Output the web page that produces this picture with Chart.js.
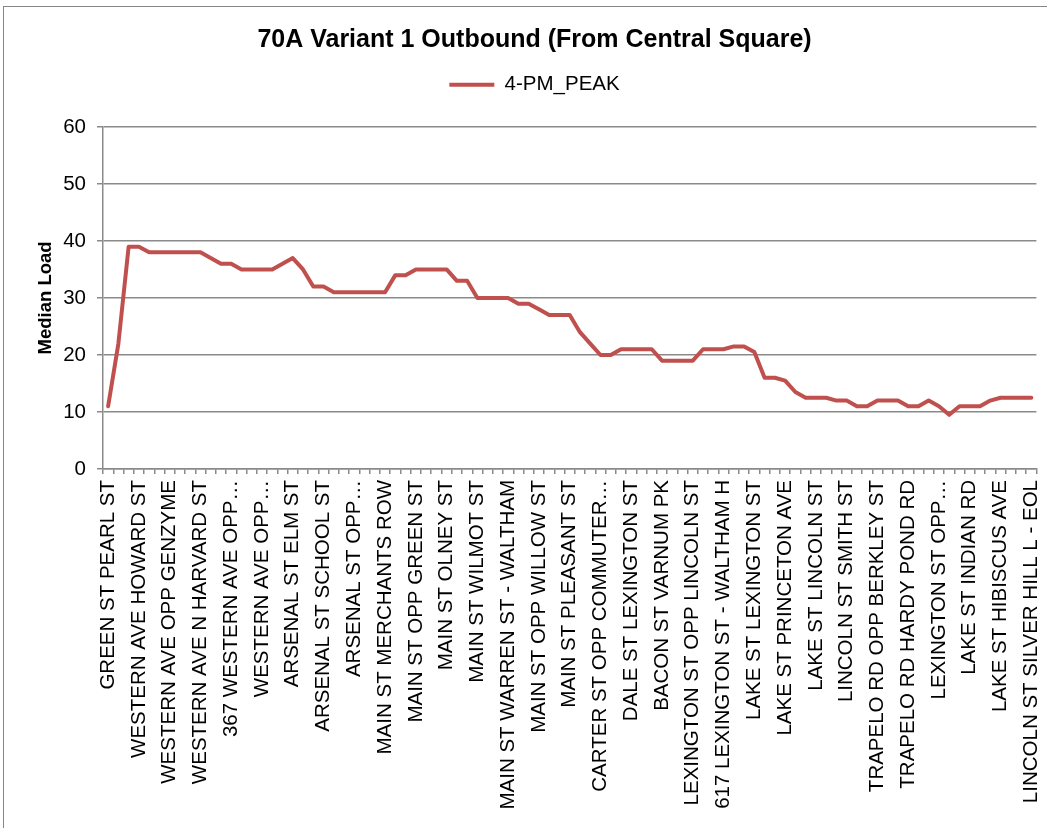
<!DOCTYPE html>
<html>
<head>
<meta charset="utf-8">
<title>70A Variant 1 Outbound</title>
<script src="https://cdn.jsdelivr.net/npm/chart.js@4.4.1/dist/chart.umd.min.js"></script>
<style>
  html, body { margin: 0; padding: 0; background: #fff; overflow: hidden; }
  #frame { position: absolute; left: 3px; top: 6px; width: 1100px; height: 900px; border: 1px solid #868686; }
  #chart { position: absolute; left: 0; top: 0; }
</style>
</head>
<body>
<div id="frame"><canvas id="chart" width="1058" height="822"></canvas></div>
<script>
// every third stop along the route gets a label on the axis
const labeledStops = [
    'GREEN ST PEARL ST',
    'WESTERN AVE HOWARD ST',
    'WESTERN AVE OPP GENZYME',
    'WESTERN AVE N HARVARD ST',
    '367 WESTERN AVE OPP\u2026',
    'WESTERN AVE OPP\u2026',
    'ARSENAL ST ELM ST',
    'ARSENAL ST SCHOOL ST',
    'ARSENAL ST OPP\u2026',
    'MAIN ST MERCHANTS ROW',
    'MAIN ST OPP GREEN ST',
    'MAIN ST OLNEY ST',
    'MAIN ST WILMOT ST',
    'MAIN ST WARREN ST - WALTHAM',
    'MAIN ST OPP WILLOW ST',
    'MAIN ST PLEASANT ST',
    'CARTER ST OPP COMMUTER\u2026',
    'DALE ST LEXINGTON ST',
    'BACON ST VARNUM PK',
    'LEXINGTON ST OPP LINCOLN ST',
    '617 LEXINGTON ST - WALTHAM H',
    'LAKE ST LEXINGTON ST',
    'LAKE ST PRINCETON AVE',
    'LAKE ST LINCOLN ST',
    'LINCOLN ST SMITH ST',
    'TRAPELO RD OPP BERKLEY ST',
    'TRAPELO RD HARDY POND RD',
    'LEXINGTON ST OPP\u2026',
    'LAKE ST INDIAN RD',
    'LAKE ST HIBISCUS AVE',
    'LINCOLN ST SILVER HILL L - EOL'
];

// median load at each stop, 4 PM peak
const pmPeak = [
    11, 22, 39, 39, 38, 38, 38, 38, 38, 38,
    37, 36, 36, 35, 35, 35, 35, 36, 37, 35,
    32, 32, 31, 31, 31, 31, 31, 31, 34, 34,
    35, 35, 35, 35, 33, 33, 30, 30, 30, 30,
    29, 29, 28, 27, 27, 27, 24, 22, 20, 20,
    21, 21, 21, 21, 19, 19, 19, 19, 21, 21,
    21, 21.5, 21.5, 20.5, 16, 16, 15.5, 13.5, 12.5, 12.5,
    12.5, 12, 12, 11, 11, 12, 12, 12, 11, 11,
    12, 11, 9.5, 11, 11, 11, 12, 12.5, 12.5, 12.5,
    12.5
];

const yTicks = [0, 10, 20, 30, 40, 50, 60];

const stopLabels = pmPeak.map((v, i) => (i % 3 === 0 ? labeledStops[i / 3] : ''));

const gridGray = '#8a8a8a';
const fontFamily = '"Liberation Sans", Arial, sans-serif';

// push the plot down a little below the legend
const legendGap = {
    id: 'legendGap',
    beforeInit(chart) {
        const fit = chart.legend.fit;
        chart.legend.fit = function () {
            fit.bind(chart.legend)();
            this.height += 22;
        };
    }
};

new Chart(document.getElementById('chart'), {
    type: 'line',
    data: {
        labels: stopLabels,
        datasets: [{
            label: '4-PM_PEAK',
            data: pmPeak,
            borderColor: '#C0504D',
            backgroundColor: '#C0504D',
            borderWidth: 4,
            borderJoinStyle: 'round',
            borderCapStyle: 'round',
            pointRadius: 0,
            tension: 0,
            fill: false
        }]
    },
    options: {
        responsive: false,
        animation: false,
        layout: { padding: { left: 24, right: 21, top: 0, bottom: 0 } },
        plugins: {
            title: {
                display: true,
                text: '70A Variant 1 Outbound (From Central Square)',
                color: '#000',
                font: { family: fontFamily, size: 25, weight: 'bold' },
                padding: { top: 18, bottom: 11.4 }
            },
            legend: {
                position: 'top',
                labels: {
                    color: '#000',
                    font: { family: fontFamily, size: 20.5 },
                    boxWidth: 45,
                    boxHeight: 4,
                    padding: 8,
                    generateLabels: chart =>
                        Chart.defaults.plugins.legend.labels.generateLabels(chart)
                            .map(item => ({ ...item, lineWidth: 0 }))
                }
            },
            tooltip: { enabled: false }
        },
        scales: {
            x: {
                offset: true,
                afterFit(scale) { scale.height = 360; },
                grid: {
                    offset: true,
                    drawOnChartArea: false,
                    drawTicks: true,
                    tickLength: 5,
                    color: gridGray,
                    lineWidth: 1.5
                },
                border: { display: true, color: gridGray, width: 1.5 },
                ticks: {
                    autoSkip: false,
                    maxRotation: 90,
                    minRotation: 90,
                    padding: 6,
                    color: '#000',
                    font: { family: fontFamily, size: 20.5 }
                }
            },
            y: {
                min: 0,
                max: 60,
                afterFit(scale) { scale.width = 75; },
                afterBuildTicks(scale) { scale.ticks = yTicks.map(v => ({ value: v })); },
                grid: {
                    color: gridGray,
                    lineWidth: 1.5,
                    tickLength: 6
                },
                border: { display: true, color: gridGray, width: 1.5 },
                ticks: {
                    padding: 11,
                    color: '#000',
                    font: { family: fontFamily, size: 20.5 }
                },
                title: {
                    display: true,
                    text: 'Median Load',
                    color: '#000',
                    font: { family: fontFamily, size: 18.5, weight: 'bold' },
                    padding: { top: 7, bottom: 0 }
                }
            }
        }
    },
    plugins: [legendGap]
});
</script>
</body>
</html>
